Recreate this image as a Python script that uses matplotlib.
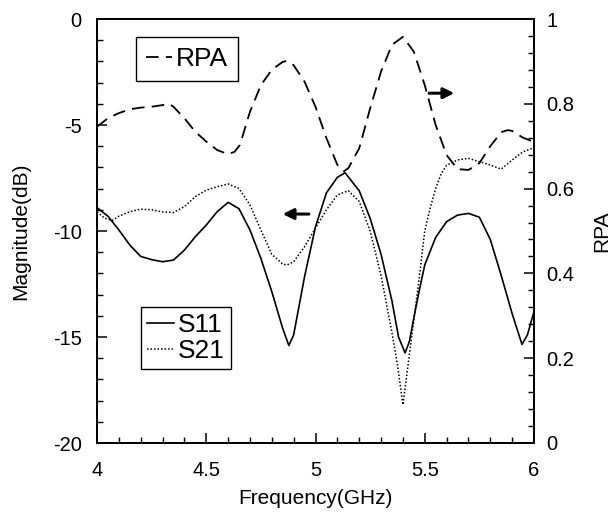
import matplotlib
matplotlib.use("Agg")
import matplotlib.pyplot as plt
from matplotlib.ticker import MultipleLocator

plt.rcParams['font.family'] = ['Liberation Sans', 'DejaVu Sans']

# ---- data ----
f_s11 = [4.0, 4.05, 4.1, 4.15, 4.2, 4.25, 4.3, 4.35, 4.4, 4.45, 4.5, 4.55, 4.6, 4.65,
         4.7, 4.75, 4.8, 4.85, 4.878, 4.9, 4.95, 5.0, 5.05, 5.1, 5.135, 5.2, 5.25, 5.3,
         5.35, 5.38, 5.41, 5.43, 5.45, 5.475, 5.5, 5.55, 5.6, 5.65, 5.7, 5.75, 5.8,
         5.85, 5.9, 5.945, 5.97, 6.0]
s11 = [-8.9, -9.3, -9.95, -10.66, -11.2, -11.35, -11.45, -11.37, -10.9, -10.27, -9.72,
       -9.09, -8.65, -8.95, -9.95, -11.29, -12.86, -14.6, -15.4, -14.9, -12.15, -9.8,
       -8.2, -7.47, -7.25, -8.1, -9.4, -11.1, -13.3, -15.0, -15.75, -15.2, -14.1, -12.8,
       -11.6, -10.3, -9.56, -9.25, -9.17, -9.35, -10.4, -12.1, -13.9, -15.35, -14.9, -13.8]

f_s21 = [4.0, 4.035, 4.07, 4.1, 4.15, 4.2, 4.25, 4.3, 4.35, 4.4, 4.45, 4.5, 4.55, 4.6,
         4.65, 4.7, 4.75, 4.8, 4.85, 4.87, 4.9, 4.95, 5.0, 5.05, 5.1, 5.15, 5.2, 5.25,
         5.3, 5.35, 5.375, 5.4, 5.425, 5.45, 5.475, 5.5, 5.525, 5.55, 5.575, 5.6, 5.65,
         5.7, 5.75, 5.8, 5.85, 5.9, 5.95, 6.0]
s21 = [-9.1, -9.4, -9.5, -9.3, -9.09, -8.97, -9.0, -9.1, -9.13, -8.85, -8.38, -8.07,
       -7.91, -7.78, -8.0, -8.77, -9.95, -11.1, -11.56, -11.6, -11.45, -10.74, -9.86,
       -9.0, -8.3, -8.1, -8.6, -10.0, -12.1, -14.8, -16.3, -18.2, -16.2, -14.2, -12.2,
       -10.0, -8.9, -8.0, -7.3, -6.9, -6.65, -6.57, -6.73, -6.89, -7.08, -6.65, -6.26,
       -6.07]

f_rpa = [4.0, 4.05, 4.1, 4.15, 4.2, 4.25, 4.3, 4.33, 4.35, 4.4, 4.45, 4.5, 4.55, 4.6,
         4.63, 4.654, 4.7, 4.75, 4.8, 4.85, 4.87, 4.9, 4.95, 5.0, 5.05, 5.1, 5.13, 5.15,
         5.2, 5.25, 5.3, 5.35, 5.4, 5.45, 5.5, 5.55, 5.6, 5.65, 5.7, 5.75, 5.8, 5.85,
         5.88, 5.9, 5.95, 6.0]
rpa = [0.746, 0.766, 0.778, 0.787, 0.791, 0.793, 0.797, 0.8, 0.793, 0.766, 0.734,
       0.711, 0.691, 0.681, 0.687, 0.703, 0.781, 0.844, 0.88, 0.899, 0.901, 0.891,
       0.852, 0.793, 0.719, 0.656, 0.641, 0.648, 0.695, 0.789, 0.876, 0.939, 0.958,
       0.923, 0.844, 0.75, 0.679, 0.646, 0.644, 0.66, 0.70, 0.733, 0.738, 0.736,
       0.72, 0.71]

x_ticks = [4, 4.5, 5, 5.5, 6]
x_ticklabels = ['4', '4.5', '5', '5.5', '6']
y_ticks = [-20, -15, -10, -5, 0]
y2_ticks = [0, 0.2, 0.4, 0.6, 0.8, 1]
y2_ticklabels = ['0', '0.2', '0.4', '0.6', '0.8', '1']

# ---- figure ----
fig = plt.figure(figsize=(6.12, 5.14), dpi=100)
ax = fig.add_axes([97/612, 71/514, 437/612, 424/514])
ax2 = ax.twinx()

l11, = ax.plot(f_s11, s11, color='black', lw=1.2, ls='-', label='S11')
l21, = ax.plot(f_s21, s21, color='black', lw=1.1, ls=(0, (1, 1.3)), label='S21')
lr, = ax2.plot(f_rpa, rpa, color='black', lw=1.3, ls=(0, (7, 4)), label='RPA')

ax.set_xlim(4, 6)
ax.set_ylim(-20, 0)
ax2.set_ylim(0, 1)

ax.set_xticks(x_ticks)
ax.set_xticklabels(x_ticklabels)
ax.set_yticks(y_ticks)
ax.set_yticklabels([str(v) for v in y_ticks])
ax2.set_yticks(y2_ticks)
ax2.set_yticklabels(y2_ticklabels)
ax.xaxis.set_minor_locator(MultipleLocator(0.1))
ax.yaxis.set_minor_locator(MultipleLocator(1))
ax2.yaxis.set_minor_locator(MultipleLocator(0.04))

for a in (ax, ax2):
    for sp in a.spines.values():
        sp.set_linewidth(1.3)

ax.tick_params(axis='both', which='major', direction='in', length=7, width=1.1,
               labelsize=14.5, top=False, right=False)
ax.tick_params(axis='x', which='major', pad=13)
ax.tick_params(axis='y', which='major', pad=11)
ax.tick_params(axis='both', which='minor', direction='in', length=4, width=1.0,
               top=False, right=False)
ax2.tick_params(axis='y', which='major', direction='in', length=7, width=1.1,
                labelsize=14.5, pad=9)
ax2.tick_params(axis='y', which='minor', direction='in', length=4, width=1.0)

ax.set_xlabel('Frequency(GHz)', fontsize=15)
ax.xaxis.set_label_coords(0.5, -0.108)
ax.set_ylabel('Magnitude(dB)', fontsize=15, labelpad=16)
ax2.set_ylabel('RPA', fontsize=15, labelpad=13)

# legends
leg1 = ax2.legend(handles=[lr], loc='upper left', bbox_to_anchor=(0.089, 0.958),
                  borderaxespad=0, fontsize=19, handlelength=1.0, handletextpad=0.15,
                  borderpad=0.38, fancybox=False, framealpha=1, edgecolor='black')
leg1.get_frame().set_linewidth(1.0)
leg2 = ax2.legend(handles=[l11, l21], loc='upper left', bbox_to_anchor=(0.10, 0.321),
                  borderaxespad=0, fontsize=19, handlelength=1.0, handletextpad=0.15,
                  borderpad=0.25, labelspacing=0.05, fancybox=False, framealpha=1,
                  edgecolor='black')
leg2.get_frame().set_linewidth(1.0)
ax2.add_artist(leg1)

# direction arrows
left_arrow = ((4.97, -9.2), (4.85, -9.2))
right_arrow = ((5.52, 0.825), (5.635, 0.825))
ax.annotate('', xy=left_arrow[1], xytext=left_arrow[0],
            arrowprops=dict(arrowstyle='-|>', color='black', lw=2.2,
                            mutation_scale=16, shrinkA=0, shrinkB=0))
ax2.annotate('', xy=right_arrow[1], xytext=right_arrow[0],
             arrowprops=dict(arrowstyle='-|>', color='black', lw=2.2,
                             mutation_scale=16, shrinkA=0, shrinkB=0))

fig.savefig('out.png', dpi=100)
